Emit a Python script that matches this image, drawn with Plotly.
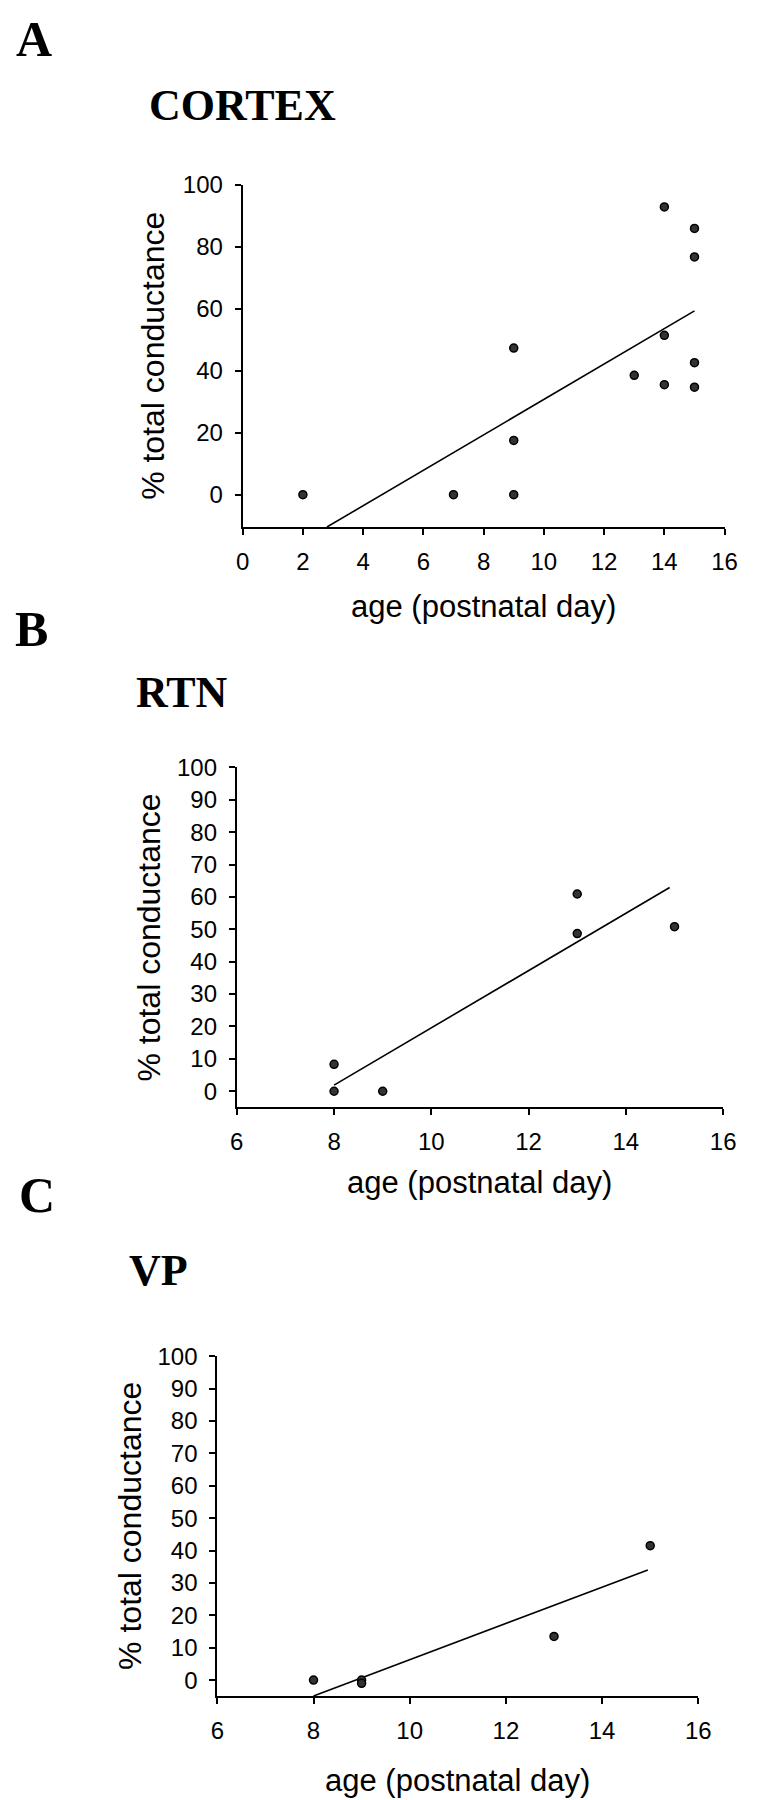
import plotly.graph_objects as go

# ---- data ----
cortex_age = [2, 7, 9, 9, 9, 13, 14, 14, 14, 15, 15, 15, 15]
cortex_pct = [0, 0, 0, 17.5, 47.3, 38.5, 92.8, 51.4, 35.5, 85.9, 76.7, 42.6, 34.7]
cortex_fit_age = [2.8, 15]
cortex_fit_pct = [-10.4, 59.3]

rtn_age = [8, 8, 9, 13, 13, 15]
rtn_pct = [0, 8.3, 0, 60.9, 48.7, 50.8]
rtn_fit_age = [8, 14.9]
rtn_fit_pct = [1.9, 62.9]

vp_age = [8, 9, 9, 13, 15]
vp_pct = [0, 0, -1, 13.5, 41.5]
vp_fit_age = [8, 14.95]
vp_fit_pct = [-4.9, 34]

panel_letters = ["A", "B", "C"]
panel_titles = ["CORTEX", "RTN", "VP"]
x_title = "age (postnatal day)"
y_title = "% total conductance"

# ---- page geometry (pixels) ----
W, H = 760, 1800
SANS = "Liberation Sans, Arial, sans-serif"
SERIF = "Liberation Serif, Times New Roman, serif"


def px(x):
    return x / W


def py(y):
    return 1 - y / H


panels = [
    dict(age=cortex_age, pct=cortex_pct, fx=cortex_fit_age, fy=cortex_fit_pct,
         xr=[0, 16], yr=[-10.4, 100], ydt=20, box=(242, 737, 172, 517),
         letter=(7, 25), title=(144, 92), ytl=150, xtl=597),
    dict(age=rtn_age, pct=rtn_pct, fx=rtn_fit_age, fy=rtn_fit_pct,
         xr=[6, 16], yr=[-5, 100], ydt=10, box=(236, 735.5, 759.3, 1102),
         letter=(6, 620), title=(130, 684), ytl=146, xtl=1178),
    dict(age=vp_age, pct=vp_pct, fx=vp_fit_age, fy=vp_fit_pct,
         xr=[6, 16], yr=[-5, 100], ydt=10, box=(216, 710, 1352.7, 1695.5),
         letter=(10, 1190), title=(123, 1266), ytl=127, xtl=1780),
]

fig = go.Figure()
annotations = []
layout = {}

for i, p in enumerate(panels):
    n = "" if i == 0 else str(i + 1)
    xa, ya = "x" + n, "y" + n
    x0, x1, y0, y1 = p["box"]

    # regression line
    fig.add_trace(go.Scatter(
        x=p["fx"], y=p["fy"], xaxis=xa, yaxis=ya, mode="lines",
        line=dict(color="black", width=1.6), showlegend=False, hoverinfo="skip"
    ))
    # cells
    fig.add_trace(go.Scatter(
        x=p["age"], y=p["pct"], xaxis=xa, yaxis=ya, mode="markers",
        marker=dict(size=8, color="#333", line=dict(color="black", width=1.5)),
        showlegend=False
    ))

    common = dict(showgrid=False, zeroline=False, showline=True, linecolor="black",
                  linewidth=2, ticks="outside", ticklen=6, tickwidth=1.5, tickcolor="black",
                  tickfont=dict(family=SANS, size=24, color="black"))
    layout["xaxis" + n] = dict(common, domain=[px(x0), px(x1)], range=p["xr"],
                               anchor=ya, tickmode="linear", tick0=p["xr"][0], dtick=2,
                               ticklabelstandoff=6)
    layout["yaxis" + n] = dict(common, domain=[py(y1), py(y0)], range=p["yr"],
                               anchor=xa, tickmode="array",
                               tickvals=list(range(0, 101, p["ydt"])),
                               ticklabelstandoff=7)

    lx, ly = p["letter"]
    annotations.append(dict(text="<b>%s</b>" % panel_letters[i], x=px(lx), y=py(ly),
                            xref="paper", yref="paper", xanchor="left", yanchor="middle",
                            showarrow=False, font=dict(family=SERIF, size=50, color="black")))
    tx, ty = p["title"]
    annotations.append(dict(text="<b>%s</b>" % panel_titles[i], x=px(tx), y=py(ty),
                            xref="paper", yref="paper", xanchor="left", yanchor="middle",
                            showarrow=False, font=dict(family=SERIF, size=44, color="black")))
    annotations.append(dict(text=y_title, x=px(p["ytl"]), y=py((y0 + y1) / 2),
                            xref="paper", yref="paper", xanchor="center", yanchor="middle",
                            textangle=-90, showarrow=False,
                            font=dict(family=SANS, size=32, color="black")))
    annotations.append(dict(text=x_title, x=px((x0 + x1) / 2), y=py(p["xtl"]),
                            xref="paper", yref="paper", xanchor="center", yanchor="middle",
                            showarrow=False, font=dict(family=SANS, size=31, color="black")))

fig.update_layout(
    width=W, height=H,
    margin=dict(l=0, r=0, t=0, b=0),
    paper_bgcolor="white", plot_bgcolor="white",
    annotations=annotations,
    **layout
)

# drop the browser's default body margin so the figure sits at the page corner
fig.write_html("out.html", config={"displayModeBar": False},
               post_script="document.body.style.margin='0';")
